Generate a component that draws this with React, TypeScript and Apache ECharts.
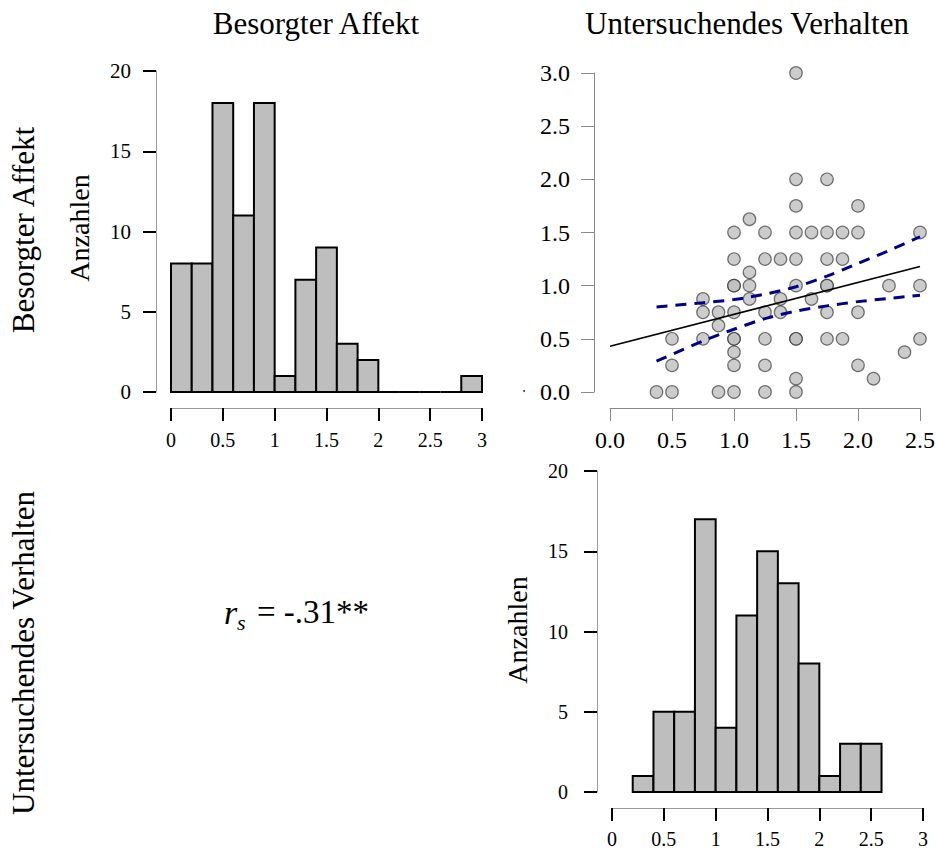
import React, { useEffect, useRef } from "react";
import * as echarts from "echarts";

// Histogram: Besorgter Affekt (bin lower edges, counts)
const affektBinLow = [0, 0.2, 0.4, 0.6, 0.8, 1.0, 1.2, 1.4, 1.6, 1.8, 2.0, 2.2, 2.4, 2.6, 2.8];
const affektCounts = [8, 8, 18, 11, 18, 1, 7, 9, 3, 2, 0, 0, 0, 0, 1];

// Histogram: Untersuchendes Verhalten
const verhaltenBinLow = [0.2, 0.4, 0.6, 0.8, 1.0, 1.2, 1.4, 1.6, 1.8, 2.0, 2.2, 2.4];
const verhaltenCounts = [1, 5, 5, 17, 4, 11, 15, 13, 8, 1, 3, 3];
const binWidth = 0.2;

// Scatter: x = Untersuchendes Verhalten, y = Besorgter Affekt
const scatterX = [
  1.5, 1.5, 1.75, 1.5, 2.0, 1.125,
  1.0, 1.25, 1.5, 1.625, 1.75, 1.875, 2.0, 2.5,
  1.0, 1.25, 1.375, 1.5, 1.75, 1.875,
  1.125,
  1.0, 1.0, 1.125, 1.5, 1.75, 1.75, 2.25, 2.5,
  0.75, 1.125, 1.375, 1.625,
  0.75, 0.875, 1.0, 1.25, 1.375, 1.75, 2.0,
  0.875,
  0.5, 0.75, 1.0, 1.0, 1.25, 1.5, 1.5, 1.75, 1.875, 2.5,
  1.0, 2.375,
  0.5, 1.0, 1.25, 2.0,
  1.5, 2.125,
  0.375, 0.5, 0.875, 1.0, 1.25, 1.5,
];
const scatterY = [
  3.0, 2.0, 2.0, 1.75, 1.75, 1.625,
  1.5, 1.5, 1.5, 1.5, 1.5, 1.5, 1.5, 1.5,
  1.25, 1.25, 1.25, 1.25, 1.25, 1.25,
  1.125,
  1.0, 1.0, 1.0, 1.0, 1.0, 1.0, 1.0, 1.0,
  0.875, 0.875, 0.875, 0.875,
  0.75, 0.75, 0.75, 0.75, 0.75, 0.75, 0.75,
  0.625,
  0.5, 0.5, 0.5, 0.5, 0.5, 0.5, 0.5, 0.5, 0.5, 0.5,
  0.375, 0.375,
  0.25, 0.25, 0.25, 0.25,
  0.125, 0.125,
  0, 0, 0, 0, 0, 0,
];

// Regression line and confidence band
const fitX = [0, 2.5];
const fitY = [0.43, 1.18];
const ciX = [0.375, 0.75, 1.0, 1.25, 1.5, 1.75, 2.0, 2.25, 2.5];
const ciUpper = [0.8, 0.84, 0.87, 0.92, 0.99, 1.09, 1.21, 1.33, 1.46];
const ciLower = [0.29, 0.48, 0.59, 0.69, 0.76, 0.81, 0.85, 0.88, 0.91];

const histTicks = [0, 0.5, 1, 1.5, 2, 2.5, 3];

const SERIF = '"Liberation Serif", "Times New Roman", serif';

function histRender(params: any, api: any) {
  const p0 = api.coord([api.value(0), api.value(2)]);
  const p1 = api.coord([api.value(1), 0]);
  return {
    type: "rect",
    shape: { x: p0[0], y: p0[1], width: p1[0] - p0[0], height: p1[1] - p0[1] },
    style: { fill: "#bebebe", stroke: "#000", lineWidth: 2 },
  };
}

function textEl(text: string, x: number, y: number, size: number, rotate = false, extra: any = {}) {
  return {
    type: "text",
    x,
    y,
    rotation: rotate ? Math.PI / 2 : 0,
    style: {
      text,
      fontFamily: SERIF,
      fontSize: size,
      fill: "#000",
      align: "center",
      verticalAlign: "middle",
      textAlign: "center",
      textVerticalAlign: "middle",
      ...extra,
    },
    silent: true,
  };
}

export default function App() {
  const ref = useRef<HTMLDivElement>(null);

  useEffect(() => {
    document.body.style.margin = "0";
    if (!ref.current) return;
    const chart = echarts.init(ref.current, null, { renderer: "svg" });

    const affektData = affektBinLow.map((lo, i) => [lo, lo + binWidth, affektCounts[i]]);
    const verhaltenData = verhaltenBinLow.map((lo, i) => [lo, lo + binWidth, verhaltenCounts[i]]);
    const scatterData = scatterX.map((x, i) => [x, scatterY[i]]);
    const fitData = fitX.map((x, i) => [x, fitY[i]]);
    const upperData = ciX.map((x, i) => [x, ciUpper[i]]);
    const lowerData = ciX.map((x, i) => [x, ciLower[i]]);

    const histXAxis = (gridIndex: number, fontSize: number, margin: number) => ({
      type: "value",
      gridIndex,
      min: 0,
      max: 3,
      interval: 0.5,
      offset: 16,
      axisLine: { show: true, onZero: false, lineStyle: { color: "#9a9a9a", width: 1 } },
      axisTick: { show: true, length: 13, lineStyle: { color: "#000", width: 2 } },
      axisLabel: {
        fontFamily: SERIF,
        fontSize,
        color: "#000",
        margin,
        formatter: (v: number) => (histTicks.includes(v) ? String(v) : ""),
      },
      splitLine: { show: false },
    });
    const histYAxis = (gridIndex: number, fontSize: number, margin: number) => ({
      type: "value",
      gridIndex,
      min: 0,
      max: 20,
      interval: 5,
      offset: 15,
      axisLine: { show: true, onZero: false, lineStyle: { color: "#9a9a9a", width: 1 } },
      axisTick: { show: true, length: 13, lineStyle: { color: "#000", width: 2 } },
      axisLabel: { fontFamily: SERIF, fontSize, color: "#000", margin },
      splitLine: { show: false },
    });

    const option: any = {
      animation: false,
      grid: [
        { left: 171, top: 71, width: 311, height: 321, outerBoundsMode: "none" },
        { left: 610, top: 73, width: 310, height: 319, outerBoundsMode: "none" },
        { left: 612, top: 471, width: 311, height: 321, outerBoundsMode: "none" },
      ],
      xAxis: [
        histXAxis(0, 20, 22),
        {
          type: "value",
          gridIndex: 1,
          min: 0,
          max: 2.5,
          interval: 0.5,
          offset: 16,
          axisLine: { show: true, onZero: false, lineStyle: { color: "#8a8a8a", width: 1 } },
          axisTick: { show: true, length: 13, lineStyle: { color: "#8a8a8a", width: 1 } },
          axisLabel: {
            fontFamily: SERIF,
            fontSize: 24,
            color: "#000",
            margin: 20,
            formatter: (v: number) => v.toFixed(1),
          },
          splitLine: { show: false },
        },
        histXAxis(2, 20, 21),
      ],
      yAxis: [
        histYAxis(0, 21, 25),
        {
          type: "value",
          gridIndex: 1,
          min: 0,
          max: 3,
          interval: 0.5,
          offset: 16,
          axisLine: { show: true, onZero: false, lineStyle: { color: "#8a8a8a", width: 1 } },
          axisTick: { show: true, length: 13, lineStyle: { color: "#8a8a8a", width: 1 } },
          axisLabel: {
            fontFamily: SERIF,
            fontSize: 24,
            color: "#000",
            margin: 24,
            formatter: (v: number) => v.toFixed(1),
          },
          splitLine: { show: false },
        },
        histYAxis(2, 20, 29),
      ],
      series: [
        {
          type: "custom",
          xAxisIndex: 0,
          yAxisIndex: 0,
          renderItem: histRender,
          encode: { x: [0, 1], y: 2 },
          data: affektData,
          silent: true,
        },
        {
          type: "scatter",
          xAxisIndex: 1,
          yAxisIndex: 1,
          data: scatterData,
          symbol: "circle",
          symbolSize: 12.5,
          itemStyle: { color: "#bfbfbf", borderColor: "rgba(30,30,30,0.75)", borderWidth: 1.2 },
          silent: true,
          z: 2,
        },
        {
          type: "line",
          xAxisIndex: 1,
          yAxisIndex: 1,
          data: fitData,
          showSymbol: false,
          symbol: "none",
          lineStyle: { color: "#000", width: 1.6 },
          silent: true,
          z: 3,
        },
        {
          type: "line",
          xAxisIndex: 1,
          yAxisIndex: 1,
          data: upperData,
          showSymbol: false,
          symbol: "none",
          smooth: 0.3,
          lineStyle: { color: "#00008b", width: 3, type: [11, 8] },
          silent: true,
          z: 3,
        },
        {
          type: "line",
          xAxisIndex: 1,
          yAxisIndex: 1,
          data: lowerData,
          showSymbol: false,
          symbol: "none",
          smooth: 0.3,
          lineStyle: { color: "#00008b", width: 3, type: [11, 8] },
          silent: true,
          z: 3,
        },
        {
          type: "custom",
          xAxisIndex: 2,
          yAxisIndex: 2,
          renderItem: histRender,
          encode: { x: [0, 1], y: 2 },
          data: verhaltenData,
          silent: true,
        },
      ],
      graphic: [
        textEl("Besorgter Affekt", 316, 23, 31),
        textEl("Untersuchendes Verhalten", 747, 23, 31),
        textEl("Besorgter Affekt", 23, 230, 31, true),
        textEl("Untersuchendes Verhalten", 23, 653, 31, true),
        textEl("Anzahlen", 79, 228, 28, true),
        textEl("Anzahlen", 517, 630, 28, true),
        textEl("r", 224, 612, 34, false, { fontStyle: "italic", align: "left", textAlign: "left" }),
        textEl("s", 237, 622, 22, false, { fontStyle: "italic", align: "left", textAlign: "left" }),
        textEl("= -.31**", 257, 612, 33, false, { align: "left", textAlign: "left" }),
        { type: "circle", shape: { cx: 524, cy: 391, r: 1 }, style: { fill: "#444" }, silent: true },
      ],
    };

    chart.setOption(option);
    return () => chart.dispose();
  }, []);

  return <div ref={ref} style={{ width: 936, height: 853 }} />;
}
